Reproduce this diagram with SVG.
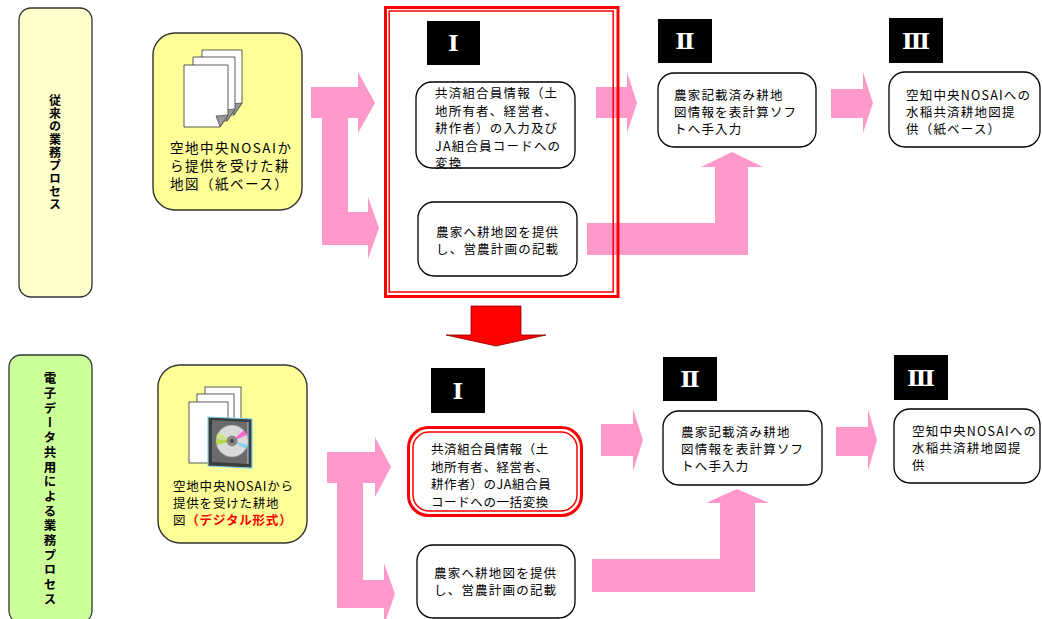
<svg xmlns="http://www.w3.org/2000/svg" width="1042" height="619" viewBox="0 0 1042 619">
  <style>
    .lane { stroke: #333; stroke-width: 1.3; }
    .lane-text { font-family: "Noto Sans CJK JP", sans-serif; font-weight: bold; font-size: 12px; fill: #000; writing-mode: vertical-rl; text-anchor: middle; }
    .src { fill: #FFFF99; stroke: #333; stroke-width: 1.4; }
    .node { fill: #fff; stroke: #000; stroke-width: 1.3; }
    .t { font-family: "Noto Sans CJK JP", sans-serif; font-size: 12.5px; letter-spacing: 1.2px; fill: #000; }
    .num-bg { fill: #000; }
    .num { font-family: "DejaVu Serif", "Liberation Serif", serif; font-weight: bold; font-size: 23px; fill: #fff; text-anchor: middle; }
    .pink { fill: #FF99CC; }
    .page { fill: #fff; stroke: #333; stroke-width: 0.8; }
    .fold { fill: #999; stroke: #333; stroke-width: 0.6; }
    .red2 { fill: none; stroke: #FF0000; }
  </style>

  <!-- lane labels -->
  <g id="lane-current">
    <rect class="lane" x="19" y="8" width="73" height="289" rx="12" fill="#FFFFCC"/>
    <text class="lane-text" x="55" y="152.5" style="letter-spacing:1px">従来の業務プロセス</text>
  </g>
  <g id="lane-digital">
    <rect class="lane" x="9" y="355" width="83" height="268" rx="12" fill="#CCFF99"/>
    <text class="lane-text" x="50" y="490" style="font-size:12.5px;letter-spacing:2.2px">電子データ共用による業務プロセス</text>
  </g>

  <!-- connectors -->
  <g id="connectors">
    <!-- current process -->
    <polygon class="pink" points="311,87 358,87 358,72 375,103 358,133 358,118 311,118"/>
    <rect class="pink" x="322" y="118" width="26" height="127"/>
    <polygon class="pink" points="322,212 368,212 368,197 379,228 368,259 368,245 322,245"/>
    <polygon class="pink" points="596,87 627,87 627,72 637,103 627,133 627,118 596,118"/>
    <polygon class="pink" points="831,89 863,89 863,72 873,103 863,133 863,118 831,118"/>
    <polygon class="pink" points="587,223 715,223 715,167 701,167 732,152 763,167 748,167 748,255 587,255"/>
    <!-- transition -->
    <polygon points="471,306 521,306 521,335 546,335 496,346 446,335 471,335" fill="#FF0000" stroke="#8B0000" stroke-width="0.8"/>
    <!-- digital process -->
    <polygon class="pink" points="327,452 375,452 375,437 391,467 375,497 375,483 327,483"/>
    <rect class="pink" x="337" y="483" width="26" height="125"/>
    <polygon class="pink" points="337,580 384,580 384,563 395,594 384,625 384,608 337,608"/>
    <polygon class="pink" points="601,424 633,424 633,409 643,440 633,471 633,456 601,456"/>
    <polygon class="pink" points="836,427 868,427 868,409 877,440 868,471 868,456 836,456"/>
    <polygon class="pink" points="592,559 720,559 720,503 706,503 737,489 769,503 755,503 755,592 592,592"/>
  </g>

  <!-- current process: paper map source -->
  <g id="src-paper">
    <rect class="src" x="153" y="33" width="149" height="177" rx="22"/>
    <polygon class="page" points="202,50 242,50 242,103 234,115 202,115"/>
    <polygon class="fold" points="242,103 234,115 230,104"/>
    <polygon class="page" points="193,57 235,57 235,109 227,121 193,121"/>
    <polygon class="fold" points="235,109 227,121 223,110"/>
    <polygon class="page" points="184,65 228,65 228,115 220,127 184,127"/>
    <polygon class="fold" points="228,115 220,127 216,116"/>
    <text class="t" style="font-size:13.5px;letter-spacing:1.5px">
      <tspan x="170" y="153">空地中央NOSAIか</tspan>
      <tspan x="170" y="171">ら提供を受けた耕</tspan>
      <tspan x="170" y="189">地図（紙ベース）</tspan>
    </text>
  </g>

  <!-- stage I frame -->
  <g id="stage1-frame">
    <rect class="red2" x="385.5" y="7.5" width="232.5" height="289" stroke-width="3"/>
    <rect class="red2" x="389.2" y="11" width="224" height="281" stroke-width="1.5"/>
  </g>

  <g id="stage1-label">
    <rect class="num-bg" x="427" y="21" width="53" height="44"/>
    <text class="num" x="453.5" y="51">Ⅰ</text>
  </g>
  <g id="stage1-convert">
    <rect class="node" x="416" y="82" width="159" height="86" rx="16"/>
    <text class="t">
      <tspan x="435" y="98">共済組合員情報（土</tspan>
      <tspan x="435" y="115.5">地所有者、経営者、</tspan>
      <tspan x="435" y="133">耕作者）の入力及び</tspan>
      <tspan x="435" y="150.5">JA組合員コードへの</tspan>
      <tspan x="435" y="168">変換</tspan>
    </text>
  </g>
  <g id="stage1-farmer">
    <rect class="node" x="418" y="202" width="159" height="74" rx="16"/>
    <text class="t">
      <tspan x="436" y="237">農家へ耕地図を提供</tspan>
      <tspan x="436" y="254">し、営農計画の記載</tspan>
    </text>
  </g>

  <g id="stage2-label">
    <rect class="num-bg" x="658" y="19" width="54" height="44"/>
    <text class="num" x="685" y="49">Ⅱ</text>
  </g>
  <g id="stage2-entry">
    <rect class="node" x="658" y="73" width="158" height="74" rx="16"/>
    <text class="t">
      <tspan x="674" y="100">農家記載済み耕地</tspan>
      <tspan x="674" y="117">図情報を表計算ソフ</tspan>
      <tspan x="674" y="134">トへ手入力</tspan>
    </text>
  </g>

  <g id="stage3-label">
    <rect class="num-bg" x="889" y="18" width="54" height="45"/>
    <text class="num" x="916" y="48.5">Ⅲ</text>
  </g>
  <g id="stage3-delivery">
    <rect class="node" x="889" y="72" width="151" height="75" rx="16"/>
    <text class="t">
      <tspan x="906" y="100">空知中央NOSAIへの</tspan>
      <tspan x="906" y="117">水稲共済耕地図提</tspan>
      <tspan x="906" y="134">供（紙ベース）</tspan>
    </text>
  </g>

  <!-- digital process: digital map source -->
  <g id="src-digital">
    <rect class="src" x="158" y="365" width="149" height="178" rx="22"/>
    <rect class="page" x="205" y="387" width="36" height="60"/>
    <rect class="page" x="197" y="394" width="37" height="62"/>
    <rect class="page" x="189" y="402" width="39" height="61"/>
    <!-- disc case -->
    <polygon points="208,417 252,419 252,468 208,466" fill="#3d3d3d" stroke="#7fd4f0" stroke-width="1.2"/>
    <polygon points="212,420 248,422 248,464 212,462" fill="#6a6a6a"/>
    <circle cx="232" cy="441" r="16" fill="#d9d9d9" stroke="#999" stroke-width="0.6"/>
    <path d="M232,441 L216.5,437 A16,16 0 0 1 218,433 Z" fill="#c8e860"/>
    <path d="M232,441 L217,445 A16,16 0 0 1 216.2,439 Z" fill="#b0d840"/>
    <path d="M232,441 L244,430 A16,16 0 0 1 247,435 Z" fill="#ff66cc"/>
    <path d="M232,441 L247.5,445 A16,16 0 0 1 246,449 Z" fill="#7fd4f0"/>
    <circle cx="232" cy="441" r="5" fill="#8a8a8a" stroke="#555" stroke-width="0.5"/>
    <circle cx="232" cy="441" r="2" fill="#444"/>
    <line x1="248" y1="422" x2="248" y2="464" stroke="#bfe9f7" stroke-width="0.8"/>
    <text class="t" style="letter-spacing:0.8px">
      <tspan x="173" y="491">空地中央NOSAIから</tspan>
      <tspan x="173" y="508">提供を受けた耕地</tspan>
      <tspan x="173" y="525">図<tspan fill="#FF0000" font-weight="bold">（デジタル形式）</tspan></tspan>
    </text>
  </g>

  <g id="d-stage1-label">
    <rect class="num-bg" x="431" y="368" width="54" height="45"/>
    <text class="num" x="458" y="398.5">Ⅰ</text>
  </g>
  <g id="d-stage1-convert">
    <rect class="red2" x="408.5" y="427.5" width="173" height="88" rx="20" fill="#fff" stroke-width="3"/>
    <rect class="red2" x="413" y="432" width="164" height="79" rx="16" stroke-width="1.5"/>
    <text class="t" style="letter-spacing:0.6px">
      <tspan x="431" y="454">共済組合員情報（土</tspan>
      <tspan x="431" y="471.5">地所有者、経営者、</tspan>
      <tspan x="431" y="489">耕作者）のJA組合員</tspan>
      <tspan x="431" y="507">コードへの一括変換</tspan>
    </text>
  </g>
  <g id="d-stage1-farmer">
    <rect class="node" x="417" y="545" width="158" height="73" rx="16"/>
    <text class="t">
      <tspan x="434" y="578">農家へ耕地図を提供</tspan>
      <tspan x="434" y="595">し、営農計画の記載</tspan>
    </text>
  </g>

  <g id="d-stage2-label">
    <rect class="num-bg" x="663" y="357" width="54" height="44"/>
    <text class="num" x="690" y="387">Ⅱ</text>
  </g>
  <g id="d-stage2-entry">
    <rect class="node" x="663" y="411" width="159" height="74" rx="16"/>
    <text class="t">
      <tspan x="681" y="437">農家記載済み耕地</tspan>
      <tspan x="681" y="454">図情報を表計算ソフ</tspan>
      <tspan x="681" y="471">トへ手入力</tspan>
    </text>
  </g>

  <g id="d-stage3-label">
    <rect class="num-bg" x="894" y="355" width="54" height="45"/>
    <text class="num" x="921" y="385.5">Ⅲ</text>
  </g>
  <g id="d-stage3-delivery">
    <rect class="node" x="894" y="409" width="146" height="74" rx="16"/>
    <text class="t">
      <tspan x="912" y="436">空知中央NOSAIへの</tspan>
      <tspan x="912" y="453">水稲共済耕地図提</tspan>
      <tspan x="912" y="470">供</tspan>
    </text>
  </g>
</svg>
